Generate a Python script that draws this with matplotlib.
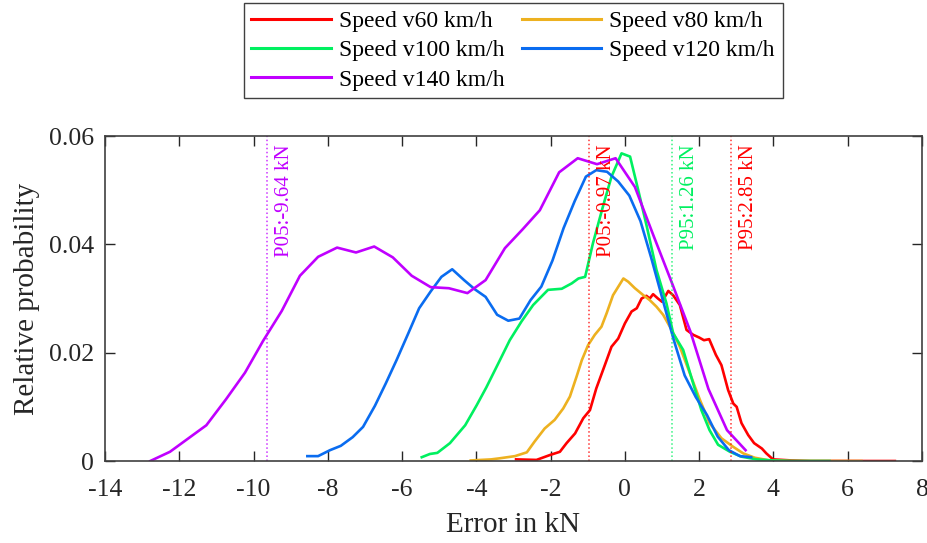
import matplotlib.pyplot as plt

plt.rcParams["font.family"] = ["Liberation Serif", "DejaVu Serif"]
plt.rcParams["axes.unicode_minus"] = False

SPEED_LABELS = ["Speed v60 km/h", "Speed v80 km/h", "Speed v100 km/h", "Speed v120 km/h", "Speed v140 km/h"]
COLORES = ["#ff0000", "#edb120", "#00f060", "#0a6cf0", "#c000ff"]

x_v60 = [-2.93, -2.38, -2.02, -1.75, -1.57, -1.34, -1.12, -0.94, -0.77, -0.54, -0.36, -0.18, 0.0,
         0.18, 0.32, 0.45, 0.58, 0.67, 0.76, 0.89, 1.00, 1.17, 1.30, 1.48, 1.66, 1.84, 2.00, 2.13,
         2.27, 2.45, 2.60, 2.78, 2.92, 3.01, 3.14, 3.32, 3.48, 3.69, 3.81, 3.99, 4.5, 5.0, 5.5, 6.0,
         6.5, 7.0, 7.27]
y_v60 = [0.0003, 0.0002, 0.0011, 0.0017, 0.0033, 0.0051, 0.0079, 0.0094, 0.0134, 0.0177, 0.0211,
         0.0226, 0.0254, 0.0276, 0.0282, 0.0300, 0.0305, 0.0300, 0.0308, 0.0300, 0.0294, 0.0314,
         0.0306, 0.0288, 0.0242, 0.0233, 0.0228, 0.0223, 0.0225, 0.0196, 0.0177, 0.0131, 0.0106,
         0.0100, 0.0070, 0.0048, 0.0033, 0.0023, 0.0014, 0.0003, 0.0001, 0.0, 0.0, 0.0, 0.0, 0.0, 0.0]

x_v80 = [-4.15, -3.60, -3.37, -2.96, -2.64, -2.43, -2.16, -1.89, -1.66, -1.48, -1.30, -1.16, -0.99,
         -0.81, -0.63, -0.49, -0.32, -0.04, 0.09, 0.27, 0.50, 0.67, 0.85, 1.03, 1.26, 1.48, 1.75,
         2.02, 2.28, 2.60, 2.92, 3.19, 3.50, 3.90, 4.5, 5.0, 5.5, 6.0, 6.37]
y_v80 = [0.0001, 0.0003, 0.0005, 0.0009, 0.0016, 0.0036, 0.0060, 0.0076, 0.0097, 0.0119, 0.0156,
         0.0186, 0.0214, 0.0233, 0.0248, 0.0273, 0.0306, 0.0337, 0.0331, 0.0319, 0.0306, 0.0297,
         0.0285, 0.0270, 0.0242, 0.0211, 0.0162, 0.0113, 0.0070, 0.0042, 0.0026, 0.0014, 0.0006,
         0.0001, 0.0, 0.0, 0.0, 0.0, 0.0]

x_v100 = [-5.47, -5.25, -5.05, -4.71, -4.30, -3.99, -3.73, -3.41, -3.10, -2.78, -2.47, -2.07, -1.70,
          -1.43, -1.25, -1.07, -0.86, -0.59, -0.36, -0.09, 0.14, 0.36, 0.59, 0.85, 1.12, 1.30, 1.57,
          1.84, 2.06, 2.28, 2.51, 2.83, 3.14, 3.55, 3.99, 4.5, 5.0, 5.51]
y_v100 = [0.0007, 0.0013, 0.0015, 0.0033, 0.0066, 0.0103, 0.0136, 0.0180, 0.0223, 0.0258, 0.0288,
          0.0316, 0.0318, 0.0328, 0.0337, 0.0340, 0.0402, 0.0470, 0.0525, 0.0568, 0.0562, 0.0500,
          0.0433, 0.0353, 0.0291, 0.0236, 0.0205, 0.0143, 0.0094, 0.0057, 0.0030, 0.0017, 0.0008,
          0.0003, 0.0001, 0.0, 0.0, 0.0]

x_v120 = [-8.55, -8.26, -7.94, -7.65, -7.33, -7.05, -6.73, -6.44, -6.15, -5.83, -5.54, -5.23, -4.94,
          -4.65, -4.33, -4.04, -3.75, -3.44, -3.14, -2.84, -2.54, -2.25, -1.95, -1.65, -1.35, -1.05,
          -0.77, -0.48, -0.18, 0.12, 0.42, 0.71, 1.01, 1.31, 1.61, 1.91, 2.21, 2.50, 2.80, 3.10, 3.40]
y_v120 = [0.0009, 0.0009, 0.0020, 0.0028, 0.0044, 0.0063, 0.0102, 0.0143, 0.0186, 0.0236, 0.0282,
          0.0313, 0.0340, 0.0354, 0.0334, 0.0317, 0.0303, 0.0270, 0.0259, 0.0263, 0.0297, 0.0322,
          0.0370, 0.0430, 0.0480, 0.0525, 0.0537, 0.0534, 0.0516, 0.0490, 0.0443, 0.0375, 0.0300,
          0.0225, 0.0158, 0.0118, 0.0085, 0.0045, 0.0020, 0.0009, 0.0007]

x_v140 = [-12.78, -12.25, -11.75, -11.27, -10.74, -10.23, -9.74, -9.24, -8.75, -8.26, -7.75, -7.24,
          -6.75, -6.25, -5.74, -5.23, -4.74, -4.24, -3.75, -3.23, -2.75, -2.29, -1.77, -1.27, -0.75,
          -0.25, 0.27, 0.76, 1.26, 1.76, 2.25, 2.75, 3.25]
y_v140 = [0.0, 0.0017, 0.0042, 0.0066, 0.0114, 0.0163, 0.0222, 0.0277, 0.0342, 0.0377, 0.0394,
          0.0385, 0.0396, 0.0376, 0.0342, 0.0321, 0.0319, 0.0310, 0.0334, 0.0393, 0.0428, 0.0463,
          0.0533, 0.0559, 0.0548, 0.0559, 0.0506, 0.0418, 0.0330, 0.0240, 0.0133, 0.0057, 0.0020]

# percentiles: (value, text, color)
PERC_VALORES = [-9.64, -0.97, 1.26, 2.85]
PERC_TEXTOS = ["P05:-9.64 kN", "P05:-0.97 kN", "P95:1.26 kN", "P95:2.85 kN"]
PERC_COLORES = ["#c000ff", "#ff0000", "#00f060", "#ff0000"]

X_TICKS = list(range(-14, 9, 2))
Y_TICKS = [0, 0.02, 0.04, 0.06]


def main():
    fig = plt.figure(figsize=(9.28, 5.43), dpi=100)
    ax = fig.add_axes([0.1131, 0.151, 0.8804, 0.5985])

    series = [(x_v60, y_v60), (x_v80, y_v80), (x_v100, y_v100), (x_v120, y_v120), (x_v140, y_v140)]
    lineas = []
    for (xs, ys), color, label in zip(series, COLORES, SPEED_LABELS):
        linea, = ax.plot(xs, ys, color=color, lw=1.9, label=label)
        lineas.append(linea)

    for valor, texto, color in zip(PERC_VALORES, PERC_TEXTOS, PERC_COLORES):
        ax.axvline(valor, color=color, ls=":", lw=1.1, alpha=0.8)
        ax.text(valor + 0.47, 0.0585, texto, rotation=90, color=color, fontsize=15,
                ha="center", va="top")

    ax.set_xlim(-14, 8)
    ax.set_ylim(0, 0.06)
    ax.set_xticks(X_TICKS)
    ax.set_xticklabels([str(t) for t in X_TICKS])
    ax.set_yticks(Y_TICKS)
    ax.set_yticklabels(["0", "0.02", "0.04", "0.06"])
    ax.tick_params(direction="in", length=7, width=1.0, color="#262626", labelsize=18.5,
                   top=True, right=True, labelcolor="#262626")
    ax.tick_params(axis="x", pad=13)
    ax.tick_params(axis="y", pad=8)
    for spine in ax.spines.values():
        spine.set_color("#404040")
        spine.set_linewidth(1.2)

    ax.set_xlabel("Error in kN", fontsize=21, color="#262626", labelpad=8)
    ax.set_ylabel("Relative probability", fontsize=21, color="#262626", labelpad=6)

    # legend is filled by columns, reorder so it reads row by row
    orden = [0, 2, 4, 1, 3]
    leg = fig.legend([lineas[i] for i in orden], [SPEED_LABELS[i] for i in orden],
                     loc="upper center", bbox_to_anchor=(0.553, 0.995), ncol=2, fontsize=17,
                     frameon=True, fancybox=False, edgecolor="#404040", framealpha=1,
                     handlelength=3.35, handletextpad=0.35, columnspacing=0.75,
                     labelspacing=0.33, borderpad=0.33, borderaxespad=0)
    leg.get_frame().set_linewidth(1.0)
    for linea in leg.get_lines():
        linea.set_linewidth(2.2)

    fig.savefig("out.png", dpi=100)


if __name__ == "__main__":
    main()
